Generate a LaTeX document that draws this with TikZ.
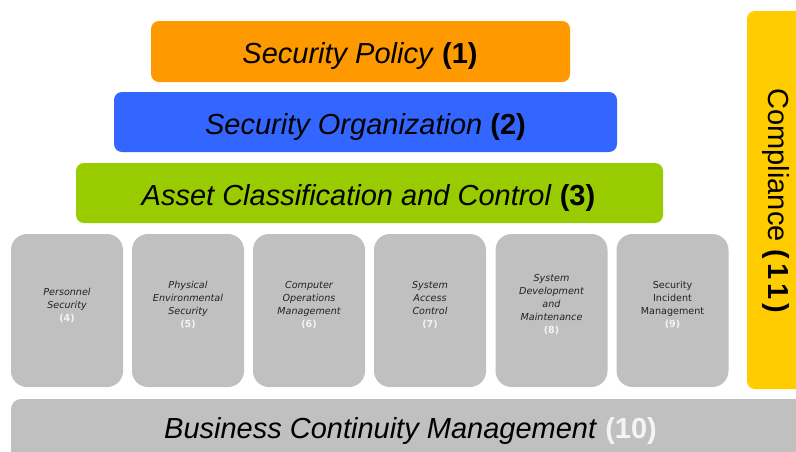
\documentclass[tikz,border=0pt]{standalone}
\usepackage{fontspec}
\setmainfont{Liberation Sans}
\newfontfamily\boxfont{DejaVu Sans}
\definecolor{policyfill}{HTML}{FF9900}
\definecolor{orgfill}{HTML}{3366FF}
\definecolor{assetfill}{HTML}{99CC00}
\definecolor{greyfill}{HTML}{C0C0C0}
\definecolor{compfill}{HTML}{FFCC00}
\definecolor{numwhite}{HTML}{F4F4F4}
\definecolor{smalltext}{HTML}{222222}
\tikzset{
  layer/.style={rounded corners=8pt, inner sep=0pt, outer sep=0pt, draw=none},
  domainbox/.style={layer, fill=greyfill, rounded corners=16pt,
    minimum width=112pt, minimum height=153pt},
  bigtext/.style={anchor=base, inner sep=0pt, font=\fontsize{29}{34}\selectfont},
  smalllabel/.style={align=center, inner sep=0pt, text=smalltext,
    font=\boxfont\fontsize{9.6}{13}\selectfont}
}
\newcommand{\smallnum}[1]{\textup{\bfseries\textcolor{numwhite}{(#1)}}}
\begin{document}
\begin{tikzpicture}[x=1pt,y=-1pt]
\useasboundingbox (0,0) rectangle (796,451);
\clip (0,0) rectangle (796,451);

% top three layers
\node[layer, fill=policyfill, minimum width=419pt, minimum height=61pt] (policy) at (360.5,51.5) {};
\node[layer, fill=orgfill, minimum width=503pt, minimum height=60pt] (org) at (365.5,122) {};
\node[layer, fill=assetfill, minimum width=587pt, minimum height=60pt] (asset) at (369.5,193) {};

\node[bigtext] (policytxt) at (360,63) {\textit{Security Policy} \textbf{(1)}};
\node[bigtext] (orgtxt) at (365.5,134) {\textit{Security Organization} \textbf{(2)}};
\node[bigtext] (assettxt) at (368.5,205) {\textit{Asset Classification and Control} \textbf{(3)}};

% domain boxes
\node[domainbox] (d4) at (67,310.5) {};
\node[domainbox] (d5) at (188,310.5) {};
\node[domainbox] (d6) at (309,310.5) {};
\node[domainbox] (d7) at (430,310.5) {};
\node[domainbox] (d8) at (551.5,310.5) {};
\node[domainbox] (d9) at (672.5,310.5) {};

\node[smalllabel] (t4) at (67,305) {\itshape Personnel\\\itshape Security\\\smallnum{4}};
\node[smalllabel] (t5) at (188,305) {\itshape Physical\\\itshape Environmental\\\itshape Security\\\smallnum{5}};
\node[smalllabel] (t6) at (309,305) {\itshape Computer\\\itshape Operations\\\itshape Management\\\smallnum{6}};
\node[smalllabel] (t7) at (430,305) {\itshape System\\\itshape Access\\\itshape Control\\\smallnum{7}};
\node[smalllabel] (t8) at (551.5,305) {\itshape System\\\itshape Development\\\itshape and\\\itshape Maintenance\\\smallnum{8}};
\node[smalllabel] (t9) at (672.5,305) {Security\\Incident\\Management\\\smallnum{9}};

% business continuity base bar
\node[layer, fill=greyfill, rounded corners=10pt, minimum width=800pt, minimum height=70pt, anchor=north west] (bcm) at (11,399) {};
\node[bigtext] (bcmtxt) at (410.5,438) {\textit{Business Continuity Management} \textbf{\textcolor{numwhite}{(10)}}};

% compliance column
\node[layer, fill=compfill, minimum width=60pt, minimum height=378pt, anchor=north west] (comp) at (747,11) {};
\node[inner sep=0pt, rotate=-90, font=\fontsize{29}{34}\selectfont] (comptxt) at (775.5,201)
  {Compliance \textbf{(\kern4pt1\kern4pt1\kern4pt)}};
\end{tikzpicture}
\end{document}
